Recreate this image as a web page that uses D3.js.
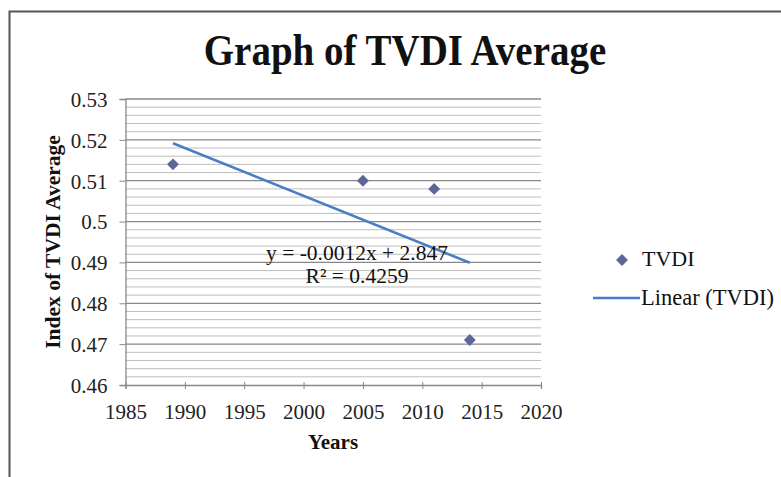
<!DOCTYPE html>
<html><head><meta charset="utf-8">
<script src="https://cdn.jsdelivr.net/npm/d3@7"></script>
<style>
html,body{margin:0;padding:0;background:#fff;}
svg{display:block;font-family:"Liberation Serif","Times New Roman",serif;}
</style></head>
<body><svg id="chart" width="781" height="477"></svg>
<script>
const years = [1989, 2005, 2011, 2014];
const tvdi = [0.514, 0.510, 0.508, 0.471];
const xTicks = [1985, 1990, 1995, 2000, 2005, 2010, 2015, 2020];
const yTicks = [0.46, 0.47, 0.48, 0.49, 0.5, 0.51, 0.52, 0.53];
const titleText = "Graph of TVDI Average";
const xLabel = "Years";
const yLabel = "Index of TVDI Average";
const eqText = "y = -0.0012x + 2.847";
const r2Text = "R\u00B2 = 0.4259";
const legendLabels = ["TVDI", "Linear (TVDI)"];

const svg = d3.select("#chart");
const x = d3.scaleLinear().domain([1985, 2020]).range([125.5, 541]);
const y = d3.scaleLinear().domain([0.46, 0.53]).range([385, 99]);

// outer border
svg.append("path").attr("d", "M9.5,480 V11.5 H790").attr("fill", "none")
  .attr("stroke", "#555").attr("stroke-width", 2);

// title
svg.append("text").attr("transform", "translate(405,65) scale(1,1.12)").attr("text-anchor", "middle")
  .attr("font-weight", "bold").attr("font-size", 39).attr("fill", "#111").text(titleText);

// minor gridlines
const minor = d3.range(0, 36).map(i => 0.46 + i * 0.002).filter(v => Math.abs(Math.round(v * 100) - v * 100) > 1e-6);
svg.append("g").selectAll("line").data(minor).join("line")
  .attr("x1", x(1985)).attr("x2", x(2020)).attr("y1", d => y(d)).attr("y2", d => y(d))
  .attr("stroke", "#bdbdbd").attr("stroke-width", 1);
// major gridlines
svg.append("g").selectAll("line").data(yTicks.slice(1)).join("line")
  .attr("x1", x(1985)).attr("x2", x(2020)).attr("y1", d => y(d)).attr("y2", d => y(d))
  .attr("stroke", "#888").attr("stroke-width", 1.3);

// axes
const xAxis = svg.append("g").attr("transform", `translate(0,${y(0.46)})`)
  .call(d3.axisBottom(x).tickValues(xTicks).tickFormat(d3.format("d")).tickSize(4).tickPadding(15));
const yAxis = svg.append("g").attr("transform", `translate(${x(1985)},0)`)
  .call(d3.axisLeft(y).tickValues(yTicks).tickFormat(d => d3.format("")(+d.toFixed(2))).tickSize(6).tickPadding(12));
[xAxis, yAxis].forEach(g => {
  g.select(".domain").attr("stroke", "#888").attr("stroke-width", 1.3);
  g.selectAll(".tick line").attr("stroke", "#888");
  g.selectAll("text").attr("font-family", "Liberation Serif").attr("font-size", 21).attr("fill", "#222");
});
xAxis.selectAll(".tick line").attr("y1", -3);
yAxis.selectAll("text").attr("dy", "0.35em");

// axis titles
svg.append("text").attr("x", 333).attr("y", 449).attr("text-anchor", "middle")
  .attr("font-weight", "bold").attr("font-size", 21).attr("fill", "#111").text(xLabel);
svg.append("text").attr("transform", "translate(60,242) rotate(-90)").attr("text-anchor", "middle")
  .attr("font-weight", "bold").attr("font-size", 21.5).attr("fill", "#111").text(yLabel);

// linear regression trendline
const mx = d3.mean(years), my = d3.mean(tvdi);
const sxy = d3.sum(years, (d, i) => (d - mx) * (tvdi[i] - my));
const sxx = d3.sum(years, d => (d - mx) * (d - mx));
const slope = sxy / sxx, intercept = my - slope * mx;
const ext = d3.extent(years);
svg.append("line").attr("x1", x(ext[0])).attr("y1", y(intercept + slope * ext[0]))
  .attr("x2", x(ext[1])).attr("y2", y(intercept + slope * ext[1]))
  .attr("stroke", "#4a7ec4").attr("stroke-width", 2.6);

// points
const diamond = d3.symbol().type(d3.symbolDiamond2).size(90);
svg.append("g").selectAll("path").data(years).join("path")
  .attr("d", diamond).attr("transform", (d, i) => `translate(${x(d)},${y(tvdi[i])})`)
  .attr("fill", "#5b6794");

// equation text
svg.append("text").attr("x", 357).attr("y", 260).attr("text-anchor", "middle")
  .attr("font-size", 21.5).attr("fill", "#111").text(eqText);
svg.append("text").attr("x", 357).attr("y", 283).attr("text-anchor", "middle")
  .attr("font-size", 21.5).attr("fill", "#111").text(r2Text);

// legend
svg.append("path").attr("d", diamond).attr("transform", "translate(622,260)").attr("fill", "#5b6794");
svg.append("text").attr("x", 642).attr("y", 266).attr("font-size", 22).attr("fill", "#111").text(legendLabels[0]);
svg.append("line").attr("x1", 593).attr("x2", 640).attr("y1", 298).attr("y2", 298)
  .attr("stroke", "#4a7ec4").attr("stroke-width", 2.6);
svg.append("text").attr("x", 641).attr("y", 305).attr("font-size", 22.5).attr("fill", "#111").text(legendLabels[1]);
</script></body></html>
